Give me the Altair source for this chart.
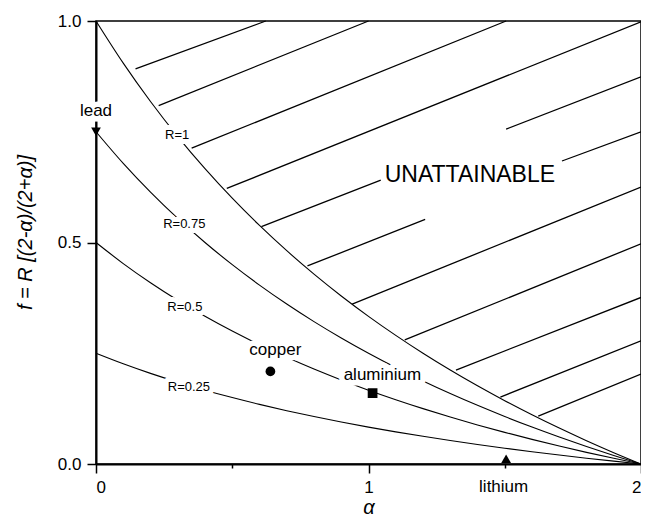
import altair as alt
import pandas as pd

# ---- data ----
alpha_grid = [0.0, 0.1, 0.2, 0.3, 0.4, 0.5, 0.6, 0.7, 0.8, 0.9, 1.0,
              1.1, 1.2, 1.3, 1.4, 1.5, 1.6, 1.7, 1.8, 1.9, 2.0]
# (2-a)/(2+a) read along the R=1 boundary
base_ratio = [1.0, 0.9048, 0.8182, 0.7391, 0.6667, 0.6, 0.5385, 0.4815, 0.4286,
              0.3793, 0.3333, 0.2903, 0.25, 0.2121, 0.1765, 0.1429, 0.1111,
              0.0811, 0.0526, 0.0256, 0.0]
r_values = [1.0, 0.75, 0.5, 0.25]
r_labels = ["R=1", "R=0.75", "R=0.5", "R=0.25"]
r_label_alpha = [0.298, 0.324, 0.326, 0.341]
r_label_f = [0.734, 0.532, 0.346, 0.1655]

materials = ["lead", "copper", "aluminium", "lithium"]
mat_alpha = [0.0, 0.64, 1.015, 1.505]
mat_f = [0.75, 0.209, 0.160, 0.012]
mat_label_alpha = [0.0, 0.658, 1.051, 1.496]
mat_label_f = [0.786, 0.247, 0.19, -0.0625]

# hatch segments of the unattainable region
hatch_a0 = [0.145, 0.230, 0.351, 0.480, 0.607, 1.505, 0.776, 1.710, 0.940, 1.133, 1.321, 1.484, 1.623]
hatch_f0 = [0.892, 0.809, 0.713, 0.622, 0.536, 0.756, 0.447, 0.684, 0.361, 0.280, 0.212, 0.151, 0.108]
hatch_a1 = [0.623, 1.000, 1.505, 2.000, 1.045, 2.000, 1.208, 2.000, 2.000, 2.000, 2.000, 2.000, 2.000]
hatch_f1 = [1.000, 1.000, 1.000, 0.998, 0.641, 0.874, 0.552, 0.750, 0.625, 0.497, 0.376, 0.278, 0.203]

region_label = ["UNATTAINABLE"]
region_alpha = [1.372]
region_f = [0.636]

# ---- tables ----
curves = pd.DataFrame(
    [{"alpha": a, "f": r * b, "R": r} for r in r_values for a, b in zip(alpha_grid, base_ratio)]
)
rlab = pd.DataFrame({"text": r_labels, "alpha": r_label_alpha, "f": r_label_f})
pts = pd.DataFrame({"material": materials, "alpha": mat_alpha, "f": mat_f})
mlab = pd.DataFrame({"text": materials, "alpha": mat_label_alpha, "f": mat_label_f})
hatch = pd.DataFrame({"a0": hatch_a0, "f0": hatch_f0, "a1": hatch_a1, "f1": hatch_f1})
reg = pd.DataFrame({"text": region_label, "alpha": region_alpha, "f": region_f})

FONT = "Liberation Sans"

xs = alt.Scale(domain=[0, 2], nice=False, zero=False)
ys = alt.Scale(domain=[0, 1], nice=False, zero=False)

x_axis = alt.Axis(
    values=[0, 0.5, 1, 1.5, 2],
    labelExpr="datum.value % 1 === 0 ? format(datum.value, 'd') : ''",
    tickSize={"condition": {"test": "datum.value % 1 === 0", "value": 9}, "value": 4},
    labelPadding=6,
    title="α",
    titleY=33,
    grid=False,
)
y_axis = alt.Axis(
    values=[0, 0.5, 1],
    format=".1f",
    tickSize=9,
    labelPadding=6,
    title="f = R [(2-α)/(2+α)]",
    titleAngle=270,
    titleAlign="center",
    titleBaseline="bottom",
    titleX=-61,
    titleY=211,
    grid=False,
)

curve_layer = alt.Chart(curves).mark_line(color="black", strokeWidth=1.1, interpolate="monotone").encode(
    x=alt.X("alpha:Q", scale=xs, axis=x_axis),
    y=alt.Y("f:Q", scale=ys, axis=y_axis),
    detail="R:N",
)

hatch_layer = alt.Chart(hatch).mark_rule(color="black", strokeWidth=1.3).encode(
    x=alt.X("a0:Q", scale=xs), y=alt.Y("f0:Q", scale=ys),
    x2="a1:Q", y2="f1:Q",
)

def label_layers(df, size, halo):
    enc = dict(x=alt.X("alpha:Q", scale=xs), y=alt.Y("f:Q", scale=ys), text="text:N")
    h = alt.Chart(df).mark_text(font=FONT, fontSize=size, align="center", baseline="alphabetic",
                                fill="white", stroke="white", strokeWidth=halo,
                                strokeJoin="round").encode(**enc)
    t = alt.Chart(df).mark_text(font=FONT, fontSize=size, align="center", baseline="alphabetic",
                                color="black").encode(**enc)
    return [h, t]

r_layers = label_layers(rlab, 13, 10)
m_layers = label_layers(mlab, 17, 11)

region_layer = alt.Chart(reg).mark_text(font=FONT, fontSize=23, align="center",
                                        baseline="alphabetic", color="black").encode(
    x=alt.X("alpha:Q", scale=xs), y=alt.Y("f:Q", scale=ys), text="text:N"
)

point_layer = alt.Chart(pts).mark_point(filled=True, color="black", opacity=1, size=95).encode(
    x=alt.X("alpha:Q", scale=xs), y=alt.Y("f:Q", scale=ys),
    shape=alt.Shape("material:N",
                    scale=alt.Scale(domain=materials,
                                    range=["triangle-down", "circle", "square", "triangle-up"]),
                    legend=None),
)

chart = alt.layer(
    curve_layer, hatch_layer, *r_layers, *m_layers, region_layer, point_layer
).properties(
    width=545, height=443,
    autosize=alt.AutoSizeParams(type="none"),
    padding={"left": 88, "top": 13, "right": 0, "bottom": 54},
).configure_view(
    stroke="black", strokeWidth=1.5
).configure_axis(
    domainColor="black", domainWidth=2, tickColor="black", tickWidth=1.5,
    labelFont=FONT, labelFontSize=17, labelColor="black",
    titleFont=FONT, titleFontSize=20, titleFontStyle="italic", titleFontWeight="normal",
    titleColor="black", zindex=0,
)

chart.save("out.html", embed_options={"renderer": "svg", "actions": False})
